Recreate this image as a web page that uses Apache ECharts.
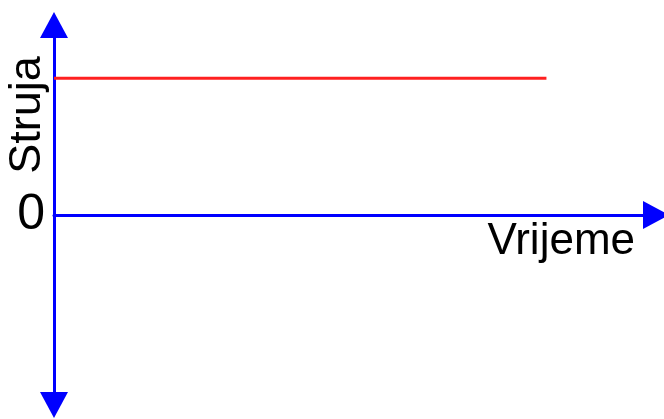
<!DOCTYPE html>
<html>
<head>
<meta charset="utf-8">
<script src="https://cdn.jsdelivr.net/npm/echarts@6/dist/echarts.min.js"></script>
<style>
html,body{margin:0;padding:0;background:#fff;}
#c{width:664px;height:419px;}
</style>
</head>
<body>
<div id="c"></div>
<script>
// Data
const xName = 'Vrijeme';
const yName = 'Struja';
const timeValues = [0, 8.18];
const currentValues = [0.72, 0.72];
const yTickLabels = ['0'];

const chart = echarts.init(document.getElementById('c'), null, {renderer: 'canvas'});
const font = 'Liberation Sans, Arial, sans-serif';
chart.setOption({
  animation: false,
  backgroundColor: '#ffffff',
  grid: {left: 54, right: 8, top: 25, bottom: 14, containLabel: false, outerBoundsMode: 'none'},
  xAxis: {
    type: 'value', min: 0, max: 10,
    name: xName, nameLocation: 'end', nameGap: -21, nameMoveOverlap: false,
    nameTextStyle: {fontFamily: font, fontSize: 44, color: '#000', align: 'right', verticalAlign: 'top', padding: [5, 0, 0, 0]},
    axisLine: {onZero: true, symbol: ['none', 'triangle'], symbolSize: [28, 26], lineStyle: {color: '#0000ff', width: 3}},
    axisTick: {show: false}, axisLabel: {show: false}, splitLine: {show: false}
  },
  yAxis: {
    type: 'value', min: -1, max: 1, interval: 1,
    name: yName, nameLocation: 'middle', nameGap: 4, nameMoveOverlap: false,
    nameTextStyle: {fontFamily: font, fontSize: 45, color: '#000', padding: [0, 0, 0, 200]},
    axisLine: {symbol: ['triangle', 'triangle'], symbolSize: [28, 26], lineStyle: {color: '#0000ff', width: 3}},
    axisTick: {show: false}, splitLine: {show: false},
    axisLabel: {fontFamily: font, fontSize: 50, color: '#000', margin: 9,
      formatter: function (v) { return yTickLabels.indexOf(String(v)) >= 0 ? String(v) : ''; }}
  },
  series: [{
    type: 'line', symbol: 'none',
    data: timeValues.map((t, i) => [t, currentValues[i]]),
    lineStyle: {color: '#ff2020', width: 3}
  }]
});
</script>
</body>
</html>
